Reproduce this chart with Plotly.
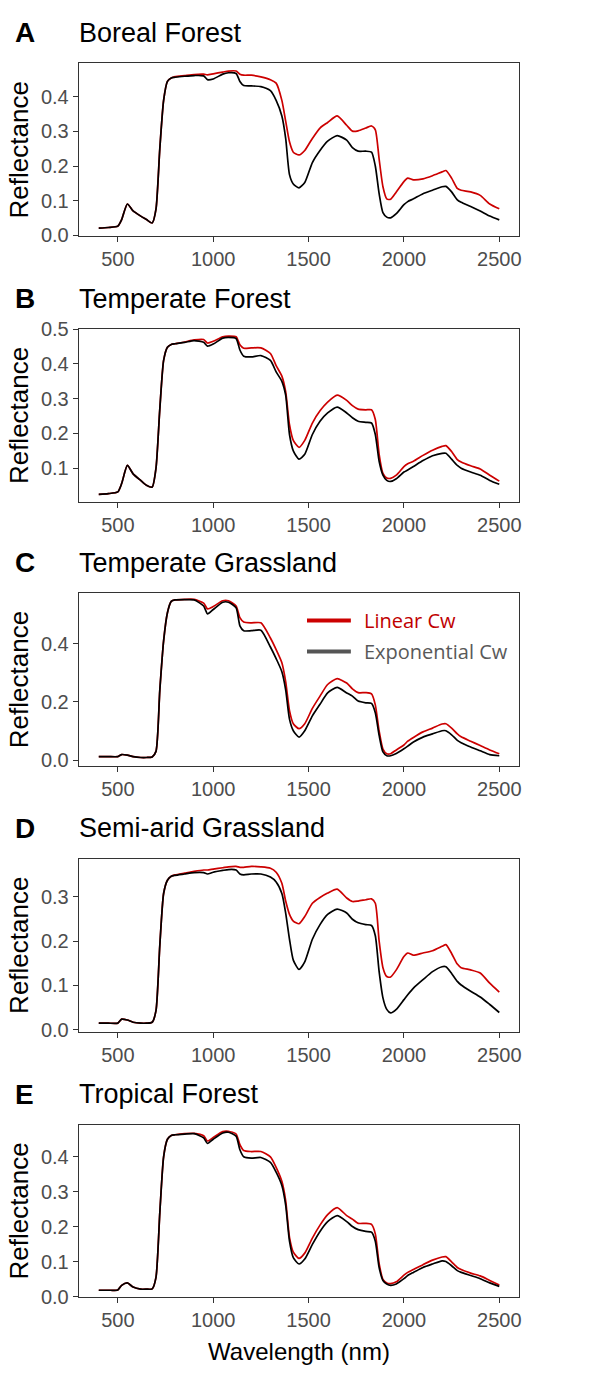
import plotly.graph_objects as go

# ---------------- data ----------------
wavelength = [400, 450, 500, 520, 550, 580, 620, 650, 680, 700, 720, 740, 760, 780, 800, 850, 900, 950, 970,
              1000, 1050, 1080, 1120, 1140, 1160, 1200, 1250, 1300, 1330, 1360, 1380, 1400, 1420, 1450, 1480,
              1520, 1560, 1600, 1650, 1700, 1730, 1760, 1800, 1830, 1850, 1870, 1890, 1910, 1930, 1960, 2000,
              2020, 2050, 2100, 2150, 2200, 2220, 2250, 2280, 2300, 2350, 2400, 2450, 2500]

panel_letters = ["A", "B", "C", "D", "E"]
panel_titles = ["Boreal Forest", "Temperate Forest", "Temperate Grassland", "Semi-arid Grassland", "Tropical Forest"]

boreal_exp = [0.020, 0.022, 0.026, 0.045, 0.090, 0.070, 0.055, 0.045, 0.035, 0.075, 0.250, 0.390, 0.445, 0.455,
              0.457, 0.460, 0.462, 0.461, 0.450, 0.452, 0.466, 0.470, 0.468, 0.445, 0.433, 0.432, 0.430, 0.418,
              0.390, 0.345, 0.280, 0.175, 0.148, 0.137, 0.152, 0.210, 0.245, 0.272, 0.288, 0.275, 0.253, 0.243,
              0.243, 0.240, 0.200, 0.120, 0.065, 0.052, 0.050, 0.062, 0.088, 0.097, 0.105, 0.120, 0.130, 0.140,
              0.141, 0.125, 0.102, 0.095, 0.083, 0.070, 0.055, 0.044]
boreal_lin = [0.020, 0.022, 0.026, 0.045, 0.090, 0.070, 0.055, 0.045, 0.035, 0.075, 0.250, 0.390, 0.445, 0.455,
              0.459, 0.462, 0.465, 0.466, 0.464, 0.467, 0.472, 0.475, 0.475, 0.466, 0.463, 0.463, 0.458, 0.450,
              0.440, 0.390, 0.330, 0.270, 0.240, 0.232, 0.245, 0.280, 0.310, 0.326, 0.345, 0.318, 0.301, 0.302,
              0.310, 0.316, 0.305, 0.220, 0.140, 0.105, 0.104, 0.125, 0.155, 0.165, 0.160, 0.163, 0.172, 0.183,
              0.187, 0.165, 0.135, 0.130, 0.125, 0.115, 0.090, 0.076]

tempforest_exp = [0.025, 0.027, 0.032, 0.056, 0.108, 0.084, 0.065, 0.051, 0.046, 0.100, 0.270, 0.410, 0.448, 0.456,
                  0.458, 0.462, 0.467, 0.462, 0.451, 0.457, 0.474, 0.476, 0.473, 0.440, 0.422, 0.420, 0.424, 0.410,
                  0.377, 0.350, 0.310, 0.197, 0.150, 0.126, 0.140, 0.197, 0.235, 0.259, 0.276, 0.259, 0.245, 0.235,
                  0.232, 0.230, 0.197, 0.120, 0.080, 0.065, 0.062, 0.070, 0.089, 0.095, 0.105, 0.122, 0.136, 0.143,
                  0.143, 0.126, 0.108, 0.100, 0.089, 0.080, 0.065, 0.054]
tempforest_lin = [0.025, 0.027, 0.032, 0.056, 0.108, 0.084, 0.065, 0.051, 0.046, 0.100, 0.270, 0.410, 0.448, 0.456,
                  0.458, 0.463, 0.469, 0.470, 0.460, 0.465, 0.478, 0.480, 0.478, 0.455, 0.445, 0.446, 0.446, 0.430,
                  0.395, 0.365, 0.320, 0.225, 0.180, 0.160, 0.180, 0.230, 0.265, 0.290, 0.310, 0.295, 0.280, 0.270,
                  0.268, 0.268, 0.240, 0.140, 0.085, 0.072, 0.071, 0.080, 0.105, 0.113, 0.120, 0.137, 0.152, 0.163,
                  0.165, 0.148, 0.125, 0.118, 0.107, 0.098, 0.080, 0.063]

tempgrass_exp = [0.012, 0.012, 0.012, 0.019, 0.017, 0.012, 0.009, 0.009, 0.011, 0.030, 0.240, 0.410, 0.507, 0.546,
                 0.551, 0.552, 0.551, 0.530, 0.503, 0.518, 0.543, 0.543, 0.524, 0.462, 0.445, 0.445, 0.447, 0.389,
                 0.349, 0.304, 0.242, 0.141, 0.101, 0.079, 0.101, 0.152, 0.192, 0.231, 0.250, 0.231, 0.220, 0.203,
                 0.197, 0.195, 0.163, 0.085, 0.028, 0.015, 0.015, 0.023, 0.039, 0.048, 0.062, 0.079, 0.090, 0.101,
                 0.101, 0.087, 0.068, 0.060, 0.045, 0.032, 0.019, 0.015]
tempgrass_lin = [0.012, 0.012, 0.012, 0.019, 0.017, 0.012, 0.009, 0.009, 0.011, 0.030, 0.240, 0.410, 0.507, 0.546,
                 0.551, 0.553, 0.553, 0.540, 0.520, 0.528, 0.548, 0.548, 0.530, 0.490, 0.475, 0.472, 0.472, 0.420,
                 0.380, 0.335, 0.270, 0.170, 0.125, 0.108, 0.125, 0.178, 0.220, 0.260, 0.280, 0.265, 0.245, 0.232,
                 0.232, 0.228, 0.190, 0.100, 0.038, 0.022, 0.022, 0.035, 0.052, 0.065, 0.078, 0.097, 0.110, 0.124,
                 0.125, 0.110, 0.090, 0.080, 0.065, 0.050, 0.035, 0.022]

semiarid_exp = [0.015, 0.015, 0.015, 0.024, 0.022, 0.017, 0.015, 0.015, 0.017, 0.043, 0.190, 0.307, 0.337, 0.346,
                0.348, 0.351, 0.354, 0.354, 0.351, 0.355, 0.359, 0.361, 0.360, 0.351, 0.349, 0.351, 0.351, 0.344,
                0.333, 0.307, 0.263, 0.204, 0.157, 0.136, 0.153, 0.204, 0.237, 0.260, 0.272, 0.263, 0.249, 0.241,
                0.237, 0.235, 0.212, 0.131, 0.072, 0.046, 0.038, 0.046, 0.068, 0.079, 0.094, 0.113, 0.131, 0.142,
                0.142, 0.127, 0.109, 0.101, 0.087, 0.074, 0.057, 0.039]
semiarid_lin = [0.015, 0.015, 0.015, 0.024, 0.022, 0.017, 0.015, 0.015, 0.017, 0.043, 0.190, 0.307, 0.337, 0.346,
                0.349, 0.353, 0.357, 0.360, 0.360, 0.362, 0.365, 0.367, 0.368, 0.366, 0.366, 0.368, 0.367, 0.364,
                0.355, 0.330, 0.290, 0.260, 0.245, 0.239, 0.255, 0.285, 0.298, 0.308, 0.317, 0.297, 0.289, 0.290,
                0.293, 0.295, 0.285, 0.200, 0.140, 0.120, 0.119, 0.135, 0.165, 0.173, 0.168, 0.173, 0.178, 0.188,
                0.192, 0.172, 0.148, 0.140, 0.135, 0.128, 0.105, 0.085]

tropical_exp = [0.019, 0.019, 0.020, 0.033, 0.040, 0.028, 0.022, 0.022, 0.023, 0.056, 0.240, 0.400, 0.450, 0.461,
                0.463, 0.465, 0.466, 0.454, 0.438, 0.450, 0.468, 0.470, 0.459, 0.420, 0.400, 0.396, 0.398, 0.384,
                0.356, 0.318, 0.262, 0.159, 0.112, 0.094, 0.108, 0.150, 0.187, 0.215, 0.232, 0.215, 0.201, 0.192,
                0.187, 0.185, 0.159, 0.084, 0.047, 0.037, 0.033, 0.037, 0.052, 0.061, 0.070, 0.084, 0.094, 0.103,
                0.101, 0.089, 0.075, 0.070, 0.061, 0.052, 0.040, 0.030]
tropical_lin = [0.019, 0.019, 0.020, 0.033, 0.040, 0.028, 0.022, 0.022, 0.023, 0.056, 0.240, 0.400, 0.450, 0.461,
                0.463, 0.466, 0.467, 0.460, 0.445, 0.455, 0.472, 0.473, 0.465, 0.435, 0.418, 0.415, 0.415, 0.400,
                0.370, 0.330, 0.275, 0.170, 0.128, 0.110, 0.125, 0.168, 0.205, 0.235, 0.255, 0.232, 0.222, 0.210,
                0.210, 0.207, 0.180, 0.095, 0.050, 0.040, 0.038, 0.043, 0.062, 0.070, 0.078, 0.092, 0.105, 0.114,
                0.115, 0.100, 0.084, 0.078, 0.068, 0.060, 0.047, 0.034]

linear_series = [boreal_lin, tempforest_lin, tempgrass_lin, semiarid_lin, tropical_lin]
exponential_series = [boreal_exp, tempforest_exp, tempgrass_exp, semiarid_exp, tropical_exp]

x_ticks = [500, 1000, 1500, 2000, 2500]
y_ticks = [[0.0, 0.1, 0.2, 0.3, 0.4],
           [0.1, 0.2, 0.3, 0.4, 0.5],
           [0.0, 0.2, 0.4],
           [0.0, 0.1, 0.2, 0.3],
           [0.0, 0.1, 0.2, 0.3, 0.4]]
y_ranges = [[-0.003, 0.497], [0.0035, 0.5], [-0.020, 0.574], [-0.004, 0.385], [-0.001, 0.492]]
x_range = [295, 2605]

legend_names = ["Linear Cw", "Exponential Cw"]

# ---------------- styling / layout ----------------
W, H = 616, 1373
RED = "#CC0000"
BLACK = "#000000"
FONT = "Liberation Sans, Arial, sans-serif"
box_left, box_right = 79, 521
box_tops = [53.3, 323.3, 591.7, 861.7, 1131.7]
box_h = 175.5

fig = go.Figure()
annotations = []
shapes = []
layout = dict(
    width=W, height=H, margin=dict(l=0, r=0, t=0, b=0),
    paper_bgcolor="white", plot_bgcolor="white", showlegend=False,
    font=dict(family=FONT, color="#4D4D4D"),
)

for i in range(5):
    n = i + 1
    xa = "x" if n == 1 else f"x{n}"
    ya = "y" if n == 1 else f"y{n}"
    fig.add_trace(go.Scatter(x=wavelength, y=linear_series[i], mode="lines", name=legend_names[0],
                             line=dict(color=RED, width=1.7, shape="spline", smoothing=0.6),
                             xaxis=xa, yaxis=ya, hoverinfo="x+y"))
    fig.add_trace(go.Scatter(x=wavelength, y=exponential_series[i], mode="lines", name=legend_names[1],
                             line=dict(color=BLACK, width=1.7, shape="spline", smoothing=0.6),
                             xaxis=xa, yaxis=ya, hoverinfo="x+y"))
    top = box_tops[i]
    bot = top + box_h
    ydom = [1 - bot / H, 1 - top / H]
    xkey = "xaxis" if n == 1 else f"xaxis{n}"
    ykey = "yaxis" if n == 1 else f"yaxis{n}"
    layout[xkey] = dict(
        domain=[box_left / W, box_right / W], range=x_range, anchor=ya,
        tickvals=x_ticks, ticks="outside", ticklen=5, tickcolor="#333333", tickwidth=1,
        showline=True, mirror=True, linecolor="#333333", linewidth=1,
        showgrid=False, zeroline=False,
        tickfont=dict(family=FONT, size=20, color="#4D4D4D"),
        title=dict(text="Wavelength (nm)" if n == 5 else "",
                   font=dict(family=FONT, size=24, color="#000000"), standoff=12),
    )
    layout[ykey] = dict(
        domain=ydom, range=y_ranges[i], anchor=xa,
        tickvals=y_ticks[i], tickformat=".1f", ticks="outside", ticklen=5, tickcolor="#333333", tickwidth=1,
        showline=True, mirror=True, linecolor="#333333", linewidth=1,
        showgrid=False, zeroline=False,
        tickfont=dict(family=FONT, size=20, color="#4D4D4D"),
        title=dict(text="Reflectance", font=dict(family=FONT, size=26, color="#000000"), standoff=4),
    )
    ty = 1 - (top - 31) / H
    annotations.append(dict(text=f"<b>{panel_letters[i]}</b>", xref="paper", yref="paper",
                            x=13 / W, y=ty, xanchor="left", yanchor="middle", showarrow=False,
                            font=dict(family=FONT, size=28, color="#000000")))
    annotations.append(dict(text=panel_titles[i], xref="paper", yref="paper",
                            x=(box_left - 2) / W, y=ty, xanchor="left", yanchor="middle", showarrow=False,
                            font=dict(family=FONT, size=27, color="#000000")))

# legend in panel C (drawn as key lines + labels)
leg_rows = [619.5, 651]
leg_colors = [RED, "#555555"]
text_colors = ["#C00000", "#595959"]
for j in range(2):
    yy = 1 - leg_rows[j] / H
    shapes.append(dict(type="line", xref="paper", yref="paper", x0=308 / W, x1=352 / W, y0=yy, y1=yy,
                       line=dict(color=leg_colors[j], width=4)))
    annotations.append(dict(text=legend_names[j], xref="paper", yref="paper", x=363 / W, y=yy,
                            xanchor="left", yanchor="middle", showarrow=False,
                            font=dict(family="Open Sans, sans-serif", size=20, color=text_colors[j])))

layout["annotations"] = annotations
layout["shapes"] = shapes
fig.update_layout(**layout)
fig.write_html("out.html")
